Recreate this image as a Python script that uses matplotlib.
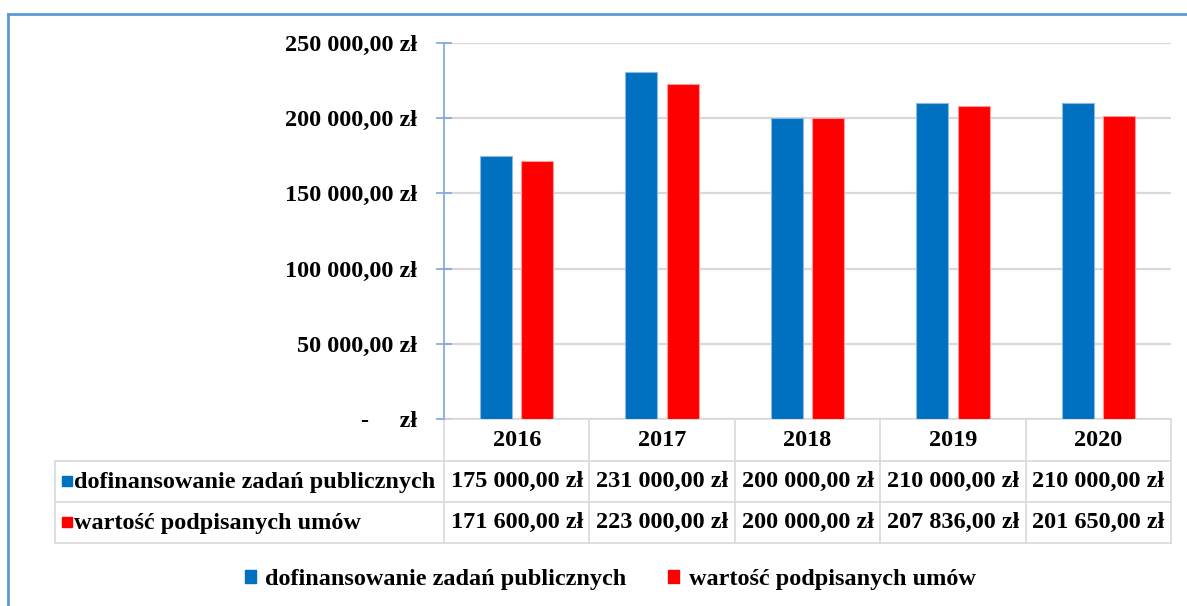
import matplotlib
matplotlib.use("Agg")
import matplotlib.pyplot as plt
from matplotlib.patches import Rectangle, Patch
from matplotlib.lines import Line2D
from matplotlib.ticker import FuncFormatter, MultipleLocator
import matplotlib.transforms as mtransforms

years = ["2016", "2017", "2018", "2019", "2020"]
dofinansowanie = [175000, 231000, 200000, 210000, 210000]
umowy = [171600, 223000, 200000, 207836, 201650]
series_names = ["dofinansowanie zadań publicznych", "wartość podpisanych umów"]
series_values = [dofinansowanie, umowy]
colors = ["#0070C0", "#FF0000"]
edge_colors = ["#8DB8E2", "#FF9A9A"]

W, H = 1187, 606
plt.rcParams["font.family"] = ["Liberation Serif", "DejaVu Serif"]
plt.rcParams["font.weight"] = "bold"
FS = 17.5


def zl(v, pos=None):
    if v == 0:
        return "-     zł"
    s = f"{v:,.2f}".replace(",", " ").replace(".", ",")
    return s + " zł"


fig = plt.figure(figsize=(W / 100, H / 100), dpi=100)
ax = fig.add_axes([444 / W, 1 - 419 / H, (1171 - 444) / W, (419 - 43) / H])

x = list(range(len(years)))
offs = [-0.143, 0.143]
for vals, off, c, ec in zip(series_values, offs, colors, edge_colors):
    ax.bar([i + off for i in x], vals, width=0.22, color=c, edgecolor=ec,
           linewidth=0.8, zorder=3)

ax.set_xlim(-0.5, len(years) - 0.5)
ax.set_ylim(0, 250000)
ax.yaxis.set_major_locator(MultipleLocator(50000))
ax.yaxis.set_major_formatter(FuncFormatter(zl))
ax.grid(axis="y", color="#D9D9D9", linewidth=1.6, zorder=0)
ax.set_xticks([])
for sp in ["top", "right", "bottom"]:
    ax.spines[sp].set_visible(False)
ax.spines["left"].set_color("#7EA6DC")
ax.spines["left"].set_linewidth(1.2)
ax.tick_params(axis="y", direction="inout", length=11, width=1.2,
               color="#7EA6DC", pad=14, labelsize=FS)
for lbl in ax.get_yticklabels():
    lbl.set_fontweight("bold")

# data table below the axes
tr = mtransforms.blended_transform_factory(ax.transData, ax.transAxes)
ax_h = 419 - 43


def ay(ypx):
    return (419 - ypx) / ax_h


rows_px = [419, 461, 502, 543]
left_x = (55 - 444) / ((1171 - 444) / len(years)) - 0.5
grid_c = "#D9D9D9"
lw = 1.2
# horizontal lines
ax.add_line(Line2D([-0.5, len(years) - 0.5], [ay(419)] * 2, transform=tr,
                   color=grid_c, lw=lw, clip_on=False))
for yp in rows_px[1:]:
    ax.add_line(Line2D([left_x, len(years) - 0.5], [ay(yp)] * 2, transform=tr,
                       color=grid_c, lw=lw, clip_on=False))
# vertical lines
for i in range(len(years) + 1):
    ax.add_line(Line2D([i - 0.5] * 2, [ay(419), ay(543)], transform=tr,
                       color=grid_c, lw=lw, clip_on=False))
ax.add_line(Line2D([left_x] * 2, [ay(461), ay(543)], transform=tr,
                   color=grid_c, lw=lw, clip_on=False))

for i, yr in enumerate(years):
    ax.text(i, ay(440), yr, transform=tr, ha="center", va="center",
            fontsize=FS, fontweight="bold")
for r, vals in enumerate(series_values):
    yc = (rows_px[r + 1] + rows_px[r + 2]) / 2
    for i, v in enumerate(vals):
        ax.text(i, ay(yc), zl(v), transform=tr, ha="center", va="center",
                fontsize=FS, fontweight="bold")
    fig.patches.append(Rectangle((62 / W, 1 - (yc + 4) / H), 10 / W, 10 / H,
                                 transform=fig.transFigure, color=colors[r]))
    fig.text(74 / W, 1 - (yc + 1) / H, series_names[r], ha="left", va="center",
             fontsize=FS, fontweight="bold")

# legend
handles = [Patch(color=c) for c in colors]
fig.legend(handles, series_names, loc="center", bbox_to_anchor=(610 / W, 1 - 580 / H),
           ncol=2, frameon=False, handlelength=0.45, handleheight=0.45,
           handletextpad=0.4, columnspacing=1.7, prop={"weight": "bold", "size": FS})

# outer frame
frame_c = "#5B9BD5"
fig.add_artist(Line2D([8 / W, 1], [1 - 14 / H] * 2, transform=fig.transFigure,
                      color=frame_c, lw=2))
fig.add_artist(Line2D([8 / W] * 2, [0, 1 - 14 / H], transform=fig.transFigure,
                      color=frame_c, lw=2))

fig.savefig("out.png", dpi=100)
